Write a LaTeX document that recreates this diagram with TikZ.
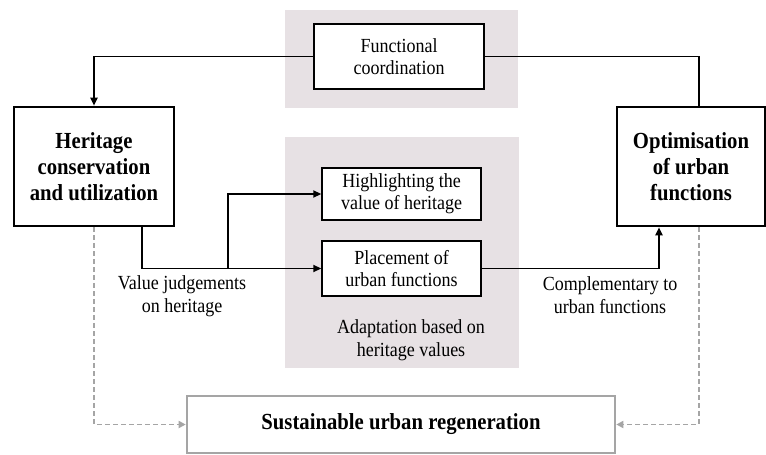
\documentclass[tikz,border=0pt]{standalone}
\usepackage{fontspec}
\setmainfont{Liberation Serif}[FakeStretch=0.9]
\usetikzlibrary{arrows.meta}
\definecolor{panel}{RGB}{231,225,228}
\definecolor{dashgray}{RGB}{165,165,165}
\begin{document}
\begin{tikzpicture}[x=1pt,y=-1pt,
  tip/.style={-{Triangle[length=8pt,width=7pt]}},
  mainbox/.style={draw=black,line width=2.6pt,fill=white,align=center,inner sep=0pt,
    font=\fontsize{23}{26}\selectfont\bfseries},
  smallbox/.style={draw=black,line width=1.4pt,fill=white,align=center,inner sep=0pt,
    font=\fontsize{20}{22}\selectfont},
  conn/.style={draw=black,line width=1.8pt},
  dconn/.style={draw=dashgray,line width=1.8pt,dash pattern=on 5pt off 3pt},
  lbl/.style={align=center,font=\fontsize{20}{23}\selectfont,inner sep=0pt}]
\useasboundingbox (0,0) rectangle (766,455);
% panels
\fill[panel] (285,10) rectangle (518,108);
\fill[panel] (285,137) rectangle (519,368);
% nodes
\node[smallbox,minimum width=170pt,minimum height=65pt] (fc) at (399,56.5) {Functional\\coordination};
\node[mainbox,minimum width=160pt,minimum height=119pt] (her) at (94,166.5) {Heritage\\conservation\\and utilization};
\node[mainbox,minimum width=148pt,minimum height=119pt] (opt) at (691,166.5) {Optimisation\\of urban\\functions};
\node[smallbox,minimum width=159pt,minimum height=52pt] (hl) at (401.5,194) {Highlighting the\\value of heritage};
\node[smallbox,minimum width=159pt,minimum height=55pt] (pl) at (401.5,268.5) {Placement of\\urban functions};
\node[draw=dashgray,line width=2.6pt,fill=white,minimum width=428pt,minimum height=57pt,inner sep=0pt,
  font=\fontsize{23}{26}\selectfont\bfseries] (sur) at (401,424.5) {Sustainable urban regeneration};
% labels
\node[lbl] (l1) at (182,296) {Value judgements\\on heritage};
\node[lbl] (l2) at (610,295) {Complementary to\\urban functions};
\node[lbl] (l3) at (411,340) {Adaptation based on\\heritage values};
% coordinates
\coordinate (hs) at ([xshift=48pt]her.south);
\coordinate (br) at (228,268.5);
\coordinate (on) at ([xshift=8pt]opt.north);
\coordinate (os) at ([xshift=-32pt]opt.south);
\coordinate (od) at ([xshift=8pt]opt.south);
% connectors
\draw[conn,tip] (fc.west) -| (her.north);
\draw[conn] (fc.east) -| (on);
\draw[conn,tip] (hs) |- (pl.west);
\draw[conn,tip] (br) |- (hl.west);
\draw[conn,tip] (pl.east) -| (os);
\draw[dconn,-{Triangle[length=7pt,width=7pt]},dashgray] (her.south) |- (sur.west);
\draw[dconn,-{Triangle[length=7pt,width=7pt]},dashgray] (od) |- (sur.east);
\end{tikzpicture}
\end{document}
